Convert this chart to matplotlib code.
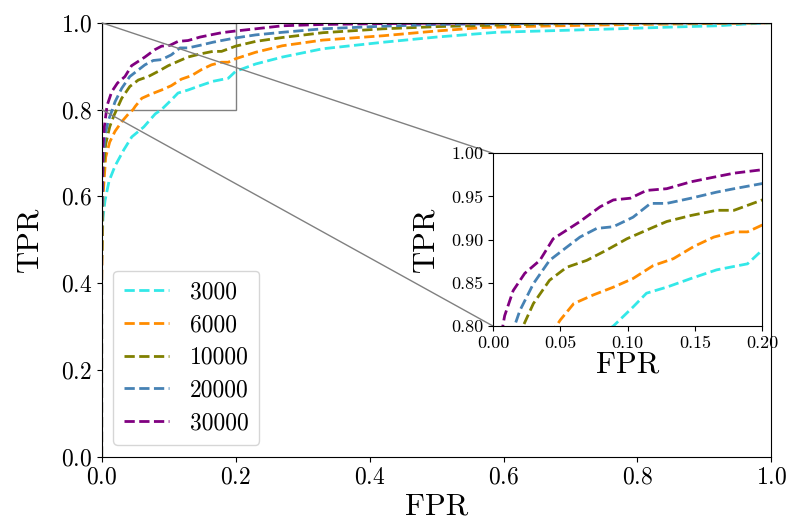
import matplotlib
matplotlib.use("Agg")
import matplotlib.pyplot as plt
from mpl_toolkits.axes_grid1.inset_locator import mark_inset

plt.rcParams['font.family'] = 'serif'
plt.rcParams['font.serif'] = ['cmr10', 'DejaVu Serif']
plt.rcParams['mathtext.fontset'] = 'cm'
plt.rcParams['axes.formatter.use_mathtext'] = True

# ROC curves for different training set sizes
labels = ['3000', '6000', '10000', '20000', '30000']
colors = ['#33e8e8', 'darkorange', 'olive', 'steelblue', 'purple']

fpr_3000 = [0, 0.0, 0.002, 0.005, 0.011, 0.02, 0.033, 0.045, 0.063, 0.08, 0.0894, 0.104, 0.114,
            0.129, 0.147, 0.166, 0.179, 0.189, 0.2, 0.23, 0.27, 0.33, 0.42, 0.5, 0.59, 0.68,
            0.77, 0.85, 0.92, 0.96, 1.0]
tpr_3000 = [0, 0.45, 0.55, 0.59, 0.635, 0.67, 0.707, 0.737, 0.76, 0.79, 0.80, 0.822, 0.838,
            0.845, 0.855, 0.865, 0.869, 0.872, 0.888, 0.905, 0.921, 0.94, 0.955, 0.967, 0.978,
            0.982, 0.986, 0.99, 0.993, 0.997, 1.0]

fpr_6000 = [0, 0, 0.002, 0.006, 0.012, 0.02, 0.03, 0.04, 0.047, 0.050, 0.060, 0.0745, 0.0894,
            0.104, 0.119, 0.134, 0.149, 0.164, 0.179, 0.189, 0.2, 0.23, 0.27, 0.33, 0.42, 0.5,
            0.57, 0.65, 0.75, 0.85, 0.95, 1.0]
tpr_6000 = [0, 0.4, 0.6, 0.69, 0.725, 0.75, 0.772, 0.79, 0.80, 0.807, 0.826, 0.836, 0.845,
            0.855, 0.870, 0.878, 0.892, 0.903, 0.909, 0.909, 0.917, 0.932, 0.947, 0.96, 0.970,
            0.981, 0.989, 0.992, 0.995, 0.997, 0.999, 1.0]

fpr_10000 = [0, 0, 0.002, 0.006, 0.012, 0.018, 0.0224, 0.030, 0.042, 0.0547, 0.0696, 0.0845,
             0.0994, 0.117, 0.129, 0.147, 0.166, 0.179, 0.2, 0.23, 0.27, 0.33, 0.42, 0.5, 0.6,
             0.7, 0.85, 1.0]
tpr_10000 = [0, 0.45, 0.65, 0.72, 0.76, 0.785, 0.80, 0.826, 0.853, 0.868, 0.876, 0.888, 0.901,
             0.913, 0.921, 0.928, 0.934, 0.934, 0.946, 0.957, 0.966, 0.977, 0.986, 0.991, 0.995,
             0.998, 0.999, 1.0]

fpr_20000 = [0, 0, 0.002, 0.005, 0.010, 0.016, 0.020, 0.030, 0.042, 0.052, 0.0646, 0.077,
             0.0894, 0.104, 0.117, 0.129, 0.147, 0.166, 0.179, 0.2, 0.23, 0.27, 0.33, 0.42, 0.5,
             0.6, 0.75, 1.0]
tpr_20000 = [0, 0.5, 0.68, 0.74, 0.775, 0.80, 0.818, 0.849, 0.876, 0.888, 0.903, 0.913, 0.915,
             0.926, 0.942, 0.942, 0.948, 0.955, 0.959, 0.965, 0.972, 0.978, 0.986, 0.992, 0.996,
             0.998, 0.999, 1.0]

fpr_30000 = [0, 0, 0.002, 0.004, 0.0075, 0.0087, 0.015, 0.0236, 0.0348, 0.0447, 0.0547, 0.0646,
             0.0795, 0.0894, 0.102, 0.114, 0.129, 0.147, 0.166, 0.179, 0.2, 0.23, 0.27, 0.33,
             0.42, 0.5, 0.6, 0.8, 1.0]
tpr_30000 = [0, 0.55, 0.72, 0.76, 0.802, 0.812, 0.841, 0.861, 0.876, 0.901, 0.911, 0.921, 0.938,
             0.946, 0.948, 0.957, 0.959, 0.967, 0.973, 0.977, 0.981, 0.986, 0.993, 0.996, 0.998,
             0.999, 1.0, 1.0, 1.0]

fprs = [fpr_3000, fpr_6000, fpr_10000, fpr_20000, fpr_30000]
tprs = [tpr_3000, tpr_6000, tpr_10000, tpr_20000, tpr_30000]

fig = plt.figure(figsize=(7.88, 5.25), dpi=100)
ax = fig.add_axes([0.129, 0.130, 0.850, 0.8267])
for f, t, c, lab in zip(fprs, tprs, colors, labels):
    ax.plot(f, t, '--', color=c, lw=2, label=lab)
ax.set_xlim(0, 1)
ax.set_ylim(0, 1)
ax.set_xlabel('FPR', fontsize=22, labelpad=3)
ax.set_ylabel('TPR', fontsize=22, labelpad=12)
ax.tick_params(labelsize=17)
ax.legend(loc='lower left', fontsize=17, labelspacing=0.45, borderpad=0.45,
          bbox_to_anchor=(0.017, 0.027), borderaxespad=0,
          handlelength=1.9, handletextpad=0.9)

# zoomed inset
axins = fig.add_axes([0.6256, 0.379, 0.3418, 0.329])
for f, t, c in zip(fprs, tprs, colors):
    axins.plot(f, t, '--', color=c, lw=2)
axins.set_xlim(0, 0.2)
axins.set_ylim(0.8, 1.0)
axins.set_xticks([0, 0.05, 0.1, 0.15, 0.2])
axins.set_yticks([0.8, 0.85, 0.9, 0.95, 1.0])
axins.set_xticklabels(['0.00', '0.05', '0.10', '0.15', '0.20'])
axins.set_yticklabels(['0.80', '0.85', '0.90', '0.95', '1.00'])
axins.tick_params(labelsize=13)
axins.set_xlabel('FPR', fontsize=22, labelpad=0)
axins.set_ylabel('TPR', fontsize=22, labelpad=8)
mark_inset(ax, axins, loc1=2, loc2=3, fc='none', ec='0.5', lw=1)

fig.savefig('out.png', dpi=100)
